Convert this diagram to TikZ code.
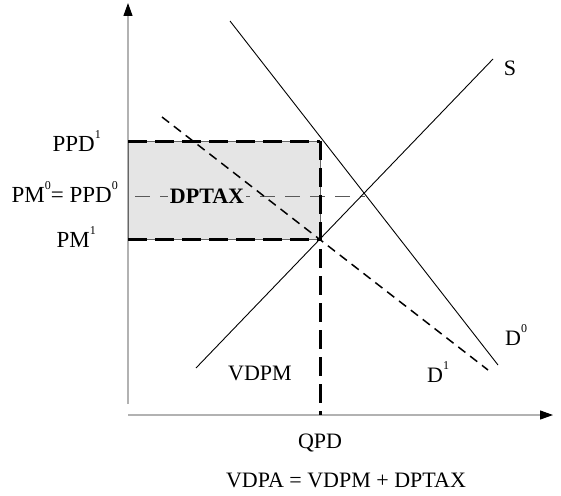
\documentclass[tikz,border=0pt]{standalone}
\usepackage{fontspec}
\setmainfont{Liberation Serif}
\usetikzlibrary{arrows.meta}
\newcommand{\supnum}[1]{\raisebox{0.55em}{\fontsize{12}{12}\selectfont #1}}
\tikzset{
  axis/.style={draw=black!30, line width=1.2pt, -{Triangle[length=13pt,width=9pt,black]}},
  curve/.style={line width=0.9pt},
  taxline/.style={line width=3pt, dash pattern=on 19pt off 8pt},
  lbl/.style={font=\fontsize{22}{24}\selectfont, inner sep=0pt},
  plbl/.style={font=\fontsize{23}{25}\selectfont, inner sep=0pt, anchor=base east},
}
\begin{document}
\begin{tikzpicture}[x=1pt,y=-1pt]
\useasboundingbox (0,0) rectangle (561,495);
% ejes
\coordinate (ybot) at (128,404);
\coordinate (ytop) at (128,3);
\coordinate (o) at (128,415);
\coordinate (xend) at (553,415);
\draw[axis] (ybot) -- (ytop);
\draw[axis] (o) -- (xend);

% area DPTAX
\coordinate (r1) at (128,141);
\coordinate (r2) at (320,141);
\coordinate (r3) at (320,239);
\coordinate (r4) at (128,239);
\coordinate (q) at (320,415);
\fill[gray!20, draw=black!60, line width=0.6pt] (r1) rectangle (r3);
\coordinate (m1) at (135,196);
\coordinate (m2) at (365,196);
\draw[black!65, line width=0.8pt, dash pattern=on 15pt off 10pt] (m1) -- (m2);
\node[lbl, font=\fontsize{22}{24}\selectfont\bfseries, fill=gray!20, inner sep=2pt, anchor=base] (tax) at (207,203) {DPTAX};
\draw[taxline] (r1) -- (r2);
\draw[taxline] (r4) -- (r3);
\draw[taxline] (r2) -- (q);

% oferta y demanda
\coordinate (s1) at (196,368);
\coordinate (s2) at (493,59);
\coordinate (d01) at (230,21);
\coordinate (d02) at (498,365);
\coordinate (d11) at (162,117);
\coordinate (d12) at (488,370);
\draw[curve] (s1) -- (s2);
\draw[curve] (d01) -- (d02);
\draw[line width=1.5pt, dash pattern=on 9pt off 6pt] (d11) -- (d12);

% etiquetas
\node[plbl] (ppd1) at (101,151) {PPD\supnum{1}};
\node[plbl] (pm0) at (118,202) {PM\supnum{0}= PPD\supnum{0}};
\node[plbl] (pm1) at (96,247) {PM\supnum{1}};
\node[lbl, anchor=base] (S) at (510,75) {S};
\node[lbl, anchor=base west] (D0) at (505,345) {D\supnum{0}};
\node[lbl, anchor=base west] (D1) at (427,382) {D\supnum{1}};
\node[lbl, anchor=base] (vdpm) at (260,380) {VDPM};
\node[lbl, anchor=base] (qpd) at (320,448) {QPD};
\node[lbl, anchor=base] (vdpa) at (346,487) {VDPA = VDPM + DPTAX};
\end{tikzpicture}
\end{document}
